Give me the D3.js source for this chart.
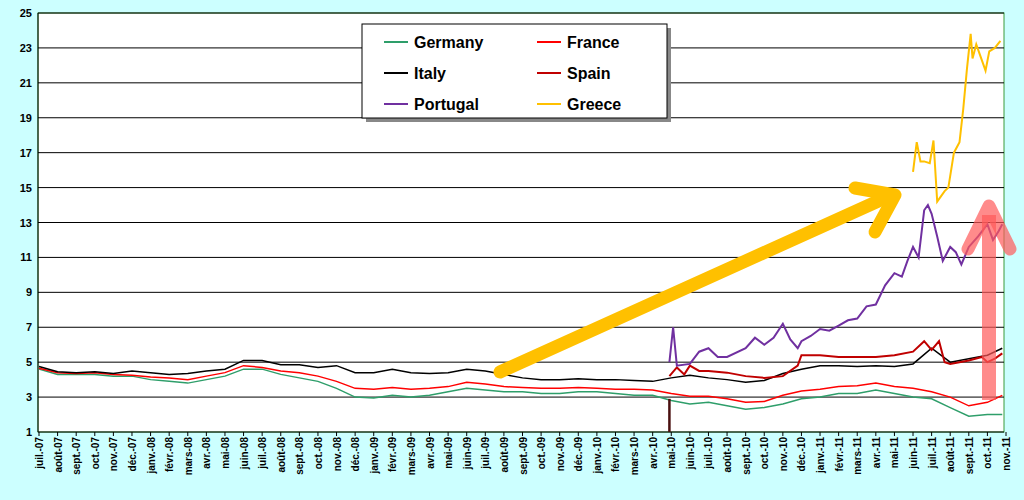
<!DOCTYPE html>
<html><head><meta charset="utf-8">
<script src="https://cdn.jsdelivr.net/npm/d3@7"></script>
<style>body{margin:0;background:#ccffff;font-family:Arial,"Liberation Sans",sans-serif}</style>
</head><body><svg id="c" width="1024" height="500"></svg>
<script>
const monthLabels=["juil.-07","août-07","sept.-07","oct.-07","nov.-07","déc.-07","janv.-08","févr.-08","mars-08","avr.-08","mai-08","juin-08","juil.-08","août-08","sept.-08","oct.-08","nov.-08","déc.-08","janv.-09","févr.-09","mars-09","avr.-09","mai-09","juin-09","juil.-09","août-09","sept.-09","oct.-09","nov.-09","déc.-09","janv.-10","févr.-10","mars-10","avr.-10","mai-10","juin-10","juil.-10","août-10","sept.-10","oct.-10","nov.-10","déc.-10","janv.-11","févr.-11","mars-11","avr.-11","mai-11","juin-11","juil.-11","août-11","sept.-11","oct.-11","nov.-11"];
const yTicks=[1,3,5,7,9,11,13,15,17,19,21,23,25];
// month index 0 = juil.-07
const tMain=[0,1,2,3,4,5,6,7,8,9,10,11,12,13,14,15,16,17,18,19,20,21,22,23,24,25,26,27,28,29,30,31,32,33,34,35,36,37,38,39,40,41,42,43,44,45,46,47,48,49,50,51,51.8];
const germany=[4.6,4.3,4.3,4.3,4.2,4.2,4.0,3.9,3.8,4.0,4.2,4.6,4.6,4.3,4.1,3.9,3.5,3.0,2.95,3.1,3.0,3.1,3.3,3.5,3.4,3.3,3.3,3.2,3.2,3.3,3.3,3.2,3.1,3.1,2.8,2.6,2.7,2.5,2.3,2.4,2.6,2.9,3.0,3.2,3.2,3.4,3.2,3.0,2.9,2.4,1.9,2.0,2.0];
const france=[4.65,4.4,4.35,4.4,4.3,4.25,4.15,4.1,4.0,4.2,4.4,4.8,4.7,4.5,4.4,4.2,3.9,3.5,3.45,3.55,3.45,3.5,3.6,3.85,3.75,3.6,3.55,3.5,3.5,3.55,3.5,3.45,3.45,3.4,3.2,3.05,3.05,2.9,2.7,2.75,3.1,3.35,3.45,3.6,3.65,3.8,3.6,3.5,3.3,3.0,2.5,2.7,3.1];
const italy=[4.75,4.45,4.4,4.45,4.35,4.5,4.4,4.3,4.35,4.5,4.6,5.1,5.1,4.85,4.85,4.7,4.8,4.4,4.4,4.6,4.4,4.35,4.4,4.6,4.5,4.3,4.1,4.0,4.0,4.05,4.0,4.0,3.95,3.9,4.1,4.25,4.1,4.0,3.85,3.95,4.35,4.6,4.8,4.8,4.75,4.8,4.75,4.9,5.8,5.0,5.2,5.4,5.8];
const tSpain=[33.9,34.3,34.7,35,35.5,36,37,38,39,40,40.8,41,42,43,44,45,46,47,47.6,48,48.4,48.7,49,50,50.7,51,51.4,51.8];
const spain=[4.2,4.7,4.3,4.8,4.5,4.5,4.4,4.2,4.1,4.2,4.8,5.4,5.4,5.3,5.3,5.3,5.4,5.6,6.2,5.7,6.2,5.0,4.9,5.1,5.3,5.0,5.2,5.5];
const tPortugal=[33.9,34.1,34.3,35,35.5,36,36.5,37,38,38.5,39,39.5,40,40.4,40.8,41,41.5,42,42.5,43,43.5,44,44.5,45,45.5,46,46.4,46.7,47,47.3,47.6,47.8,48,48.3,48.6,49,49.3,49.6,50,50.5,51,51.3,51.6,51.8];
const portugal=[5.0,7.0,4.8,4.9,5.6,5.8,5.3,5.3,5.8,6.4,6.0,6.4,7.2,6.3,5.8,6.2,6.5,6.9,6.8,7.1,7.4,7.5,8.2,8.3,9.4,10.1,9.9,10.8,11.6,11.0,13.7,14.0,13.5,12.2,10.8,11.6,11.3,10.6,11.6,12.2,12.9,12.0,12.5,12.9];
const tGreece=[47,47.2,47.4,47.6,47.9,48.1,48.3,48.5,48.7,48.9,49.2,49.5,49.7,49.9,50.1,50.2,50.4,50.6,50.9,51.1,51.4,51.7];
const greece=[15.9,17.6,16.5,16.5,16.4,17.7,14.2,14.5,14.8,15.0,17.0,17.6,19.5,21.8,23.8,22.4,23.2,22.6,21.7,22.8,23.0,23.4];

const svg=d3.select("#c");
const L=38,R=1004,T=13,B=432;
const x=d3.scaleLinear().domain([0,52]).range([L+1,1006]);
const y=d3.scaleLinear().domain([1,25]).range([B,T]);
svg.append("rect").attr("x",L).attr("y",T).attr("width",R-L).attr("height",B-T).attr("fill","#fff").attr("stroke","#3a9a3a").attr("stroke-width",1);
svg.append("g").selectAll("line").data(yTicks.slice(1)).join("line")
 .attr("x1",L).attr("x2",R).attr("y1",d=>y(d)).attr("y2",d=>y(d)).attr("stroke","#000").attr("stroke-width",1);
svg.append("line").attr("x1",L).attr("x2",L).attr("y1",T).attr("y2",B).attr("stroke","#000");
svg.append("line").attr("x1",L).attr("x2",R).attr("y1",B).attr("y2",B).attr("stroke","#000");
svg.append("g").selectAll("text").data(yTicks).join("text").attr("x",L-6).attr("y",d=>y(d)+4)
 .attr("text-anchor","end").attr("font-size",11).attr("font-weight","bold").text(d=>d);
const xa=svg.append("g");
xa.selectAll("line").data(monthLabels).join("line").attr("x1",(d,i)=>x(i)).attr("x2",(d,i)=>x(i)).attr("y1",B).attr("y2",B+4).attr("stroke","#000");
xa.selectAll("text").data(monthLabels).join("text")
 .attr("transform",(d,i)=>`translate(${x(i)+4},${B+5}) rotate(-90)`).attr("text-anchor","end")
 .attr("font-size",10).attr("font-weight","bold").text(d=>d);
const line=d3.line().x(d=>x(d[0])).y(d=>y(d[1]));
function draw(t,v,c,w){svg.append("path").attr("d",line(t.map((d,i)=>[d,v[i]]))).attr("fill","none").attr("stroke",c).attr("stroke-width",w);}
draw(tMain,germany,"#2e9e6a",1.5);
draw(tMain,france,"#ff0000",1.5);
draw(tMain,italy,"#000",1.5);
draw(tSpain,spain,"#c00000",2);
draw(tPortugal,portugal,"#7030a0",2);
draw(tGreece,greece,"#ffc000",2);
// dark marker
svg.append("line").attr("x1",x(33.9)).attr("x2",x(33.9)).attr("y1",y(1)).attr("y2",y(2.9)).attr("stroke","#4a1010").attr("stroke-width",2.5);
// arrows
svg.append("line").attr("x1",500).attr("y1",372).attr("x2",885).attr("y2",198).attr("stroke","#ffc000").attr("stroke-width",13).attr("stroke-linecap","round");
svg.append("polyline").attr("points","855,188 895,195 875,232").attr("fill","none").attr("stroke","#ffc000").attr("stroke-width",13).attr("stroke-linecap","round").attr("stroke-linejoin","round");
svg.append("line").attr("x1",989).attr("y1",400).attr("x2",989).attr("y2",215).attr("stroke","#ff5a5a").attr("stroke-opacity",0.7).attr("stroke-width",14);
svg.append("polyline").attr("points","968,249 989,206 1010,249").attr("fill","none").attr("stroke","#ff5a5a").attr("stroke-opacity",0.7).attr("stroke-width",13).attr("stroke-linecap","round").attr("stroke-linejoin","round");
// legend
const lg=svg.append("g");
lg.append("rect").attr("x",366).attr("y",28).attr("width",305).attr("height",94).attr("fill","#888");
lg.append("rect").attr("x",362).attr("y",24).attr("width",305).attr("height",94).attr("fill","#fff").attr("stroke","#000");
const items=[["Germany","#2e9e6a",0,0],["France","#ff0000",1,0],["Italy","#000",0,1],["Spain","#c00000",1,1],["Portugal","#7030a0",0,2],["Greece","#ffc000",1,2]];
items.forEach(([n,c,col,row])=>{const lx=col?537:384,ly=42+row*31;
 lg.append("line").attr("x1",lx).attr("x2",lx+24).attr("y1",ly).attr("y2",ly).attr("stroke",c).attr("stroke-width",2);
 lg.append("text").attr("x",lx+30).attr("y",ly+6).attr("font-size",16).attr("font-weight","bold").text(n);});
</script></body></html>
